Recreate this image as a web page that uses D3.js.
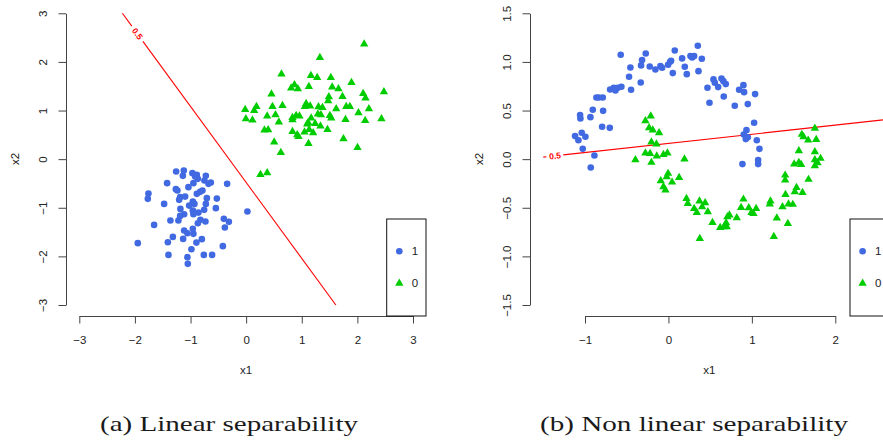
<!DOCTYPE html>
<html>
<head>
<meta charset="utf-8">
<script src="https://cdn.jsdelivr.net/npm/d3@7"></script>
<style>
  html, body { margin: 0; padding: 0; background: #fff; }
  svg { display: block; }
  text { font-family: "Liberation Sans", Arial, sans-serif; }
</style>
</head>
<body>
<svg id="chart" width="883" height="441"></svg>
<script>
// ---------------- DATA ----------------
const legendLabels = ["1", "0"];
const captions = ["(a) Linear separability", "(b) Non linear separability"];
const axisTitles = ["x1", "x2"];

const leftXTicks = [-3, -2, -1, 0, 1, 2, 3];
const leftYTicks = [-3, -2, -1, 0, 1, 2, 3];
const rightXTicks = [-1, 0, 1, 2];
const rightYTicks = [-1.5, -1.0, -0.5, 0.0, 0.5, 1.0, 1.5];

// Left panel, class 1 (blue circles)
const leftClass1 = [
  [-1.259,-0.255],[-1.121,-0.235],[-1.138,-0.344],[-0.966,-0.288],[-0.887,-0.323],
  [-0.917,-0.358],[-0.869,-0.405],[-0.725,-0.344],[-0.750,-0.440],[-0.635,-0.481],
  [-0.678,-0.508],[-0.948,-0.494],[-1.421,-0.494],[-0.342,-0.508],[-1.038,-0.576],
  [-1.264,-0.617],[-1.236,-0.646],[-0.786,-0.646],[-0.827,-0.673],[-0.887,-0.714],
  [-1.757,-0.708],[-1.768,-0.817],[-1.187,-0.782],[-1.097,-0.770],[-1.205,-0.837],
  [-0.707,-0.802],[-0.527,-0.811],[-0.959,-0.872],[-0.930,-0.920],[-1.025,-0.955],
  [-1.475,-0.920],[-0.725,-0.920],[-0.545,-1.008],[-0.755,-1.043],[-0.959,-1.058],
  [-1.182,-1.023],[-0.858,-1.099],[-1.115,-1.132],[-0.948,-1.132],[-1.187,-1.167],
  [0.023,-1.078],[-1.362,-1.263],[-1.218,-1.263],[-0.822,-1.249],[-0.869,-1.317],
  [-0.732,-1.284],[-0.401,-1.228],[-0.311,-1.290],[-1.655,-1.352],[-0.383,-1.407],
  [-0.959,-1.434],[-1.115,-1.469],[-1.056,-1.523],[-0.948,-1.537],[-1.318,-1.599],
  [-1.133,-1.640],[-0.797,-1.646],[-0.894,-1.716],[-1.408,-1.708],[-1.948,-1.728],
  [-0.419,-1.790],[-0.984,-1.852],[-1.397,-1.969],[-0.761,-1.969],[-0.612,-1.969],
  [-1.056,-2.016],[-1.049,-2.154]
];

// Left panel, class 0 (green triangles)
const leftClass0 = [
  [2.122,2.366],[1.326,2.091],[0.635,1.749],[1.164,1.720],[1.277,1.679],
  [1.523,1.679],[1.894,1.576],[0.869,1.529],[0.809,1.461],[0.930,1.447],
  [1.128,1.494],[1.547,1.481],[1.660,1.447],[0.455,1.337],[1.732,1.288],
  [2.104,1.350],[2.146,1.255],[2.477,1.385],[1.487,1.282],[1.475,1.200],
  [0.185,1.082],[-0.018,1.021],[0.144,1.000],[0.473,1.082],[0.653,1.103],
  [1.079,1.144],[1.056,1.082],[1.151,1.091],[1.300,1.076],[1.372,1.062],
  [1.619,1.035],[1.799,1.082],[1.865,1.082],[2.207,1.035],[-0.005,0.829],
  [0.113,0.802],[0.378,0.885],[0.527,0.912],[0.833,0.856],[0.899,0.897],
  [0.959,0.885],[1.169,0.844],[1.290,0.926],[1.344,0.912],[1.505,0.897],
  [1.529,0.844],[1.786,0.815],[2.020,0.953],[2.140,0.794],[2.433,0.829],
  [0.588,0.761],[0.833,0.809],[1.115,0.753],[1.241,0.733],[1.097,0.720],
  [1.336,0.679],[0.329,0.597],[0.396,0.603],[0.833,0.568],[1.049,0.556],
  [1.133,0.609],[1.205,0.541],[1.462,0.609],[0.941,0.465],[0.917,0.500],
  [0.504,0.350],[1.121,0.321],[1.750,0.418],[2.002,0.239],[0.624,0.136],
  [0.257,-0.317],[0.378,-0.282]
];

// Right panel, class 1 (blue circles)
const rightClass1 = [
  [-1.119,0.237],[-1.079,0.195],[-1.039,0.271],[-1.059,0.453],[-1.055,0.418],
  [-0.995,0.230],[-1.027,0.106],[-0.931,-0.086],[-0.887,0.038],[-0.935,0.432],
  [-0.907,0.508],[-0.863,0.634],[-0.835,0.634],[-0.787,0.634],[-0.783,0.497],
  [-0.795,0.333],[-0.703,0.322],[-0.699,0.717],[-0.655,0.734],[-0.635,0.706],
  [-0.607,0.734],[-0.564,0.744],[-0.448,0.713],[-0.472,0.847],[-0.456,0.943],
  [-0.572,1.073],[-0.332,0.789],[-0.328,0.964],[-0.316,1.019],[-0.272,1.087],
  [-0.224,0.953],[-0.156,0.922],[-0.096,0.957],[-0.076,0.940],[-0.004,0.971],
  [0.020,1.001],[0.032,1.012],[0.052,0.885],[0.076,1.118],[0.164,1.036],
  [0.196,0.950],[0.220,0.874],[0.264,1.060],[0.284,1.046],[0.308,1.060],
  [0.352,1.166],[0.360,0.905],[0.400,1.032],[0.468,0.734],[0.492,0.580],
  [0.540,0.820],[0.556,0.785],[0.596,0.741],[0.636,0.830],[0.659,0.802],
  [0.687,0.772],[0.663,0.645],[0.795,0.549],[0.847,0.713],[0.899,0.761],
  [0.907,0.689],[0.951,0.566],[1.039,0.669],[1.027,0.374],[0.935,0.298],
  [0.903,0.254],[0.927,0.206],[0.951,0.226],[1.059,0.195],[1.091,0.106],
  [1.075,-0.010],[1.075,-0.051],[0.887,-0.051]
];

// Right panel, class 0 (green triangles)
const rightClass0 = [
  [-0.276,0.394],[-0.212,0.442],[-0.232,0.322],[-0.188,0.298],[-0.112,0.271],
  [-0.204,0.175],[-0.144,0.154],[-0.396,-0.007],[-0.276,0.062],[-0.220,0.058],
  [-0.204,-0.034],[-0.140,0.031],[-0.060,0.048],[-0.012,0.062],[0.192,0.000],
  [1.755,0.316],[1.599,0.254],[1.619,0.230],[1.675,0.195],[1.771,0.202],
  [1.563,0.086],[1.755,0.075],[1.755,-0.007],[1.823,0.007],[1.507,-0.051],
  [1.563,-0.034],[1.591,-0.055],[1.787,-0.038],[1.755,-0.069],
  [-0.004,-0.147],[-0.020,-0.182],[-0.092,-0.223],[0.044,-0.237],[0.128,-0.189],
  [-0.060,-0.285],[-0.036,-0.319],[0.216,-0.405],[0.232,-0.456],[0.308,-0.508],
  [0.340,-0.549],[0.372,-0.432],[0.404,-0.490],[0.440,-0.449],[0.472,-0.542],
  [0.528,-0.652],[0.620,-0.703],[0.667,-0.696],[0.691,-0.655],[0.707,-0.593],
  [0.731,-0.576],[0.819,-0.604],[0.699,-0.696],[0.376,-0.816],[0.871,-0.497],
  [0.899,-0.412],[0.963,-0.501],[0.995,-0.549],[1.019,-0.559],[1.051,-0.508],
  [1.223,-0.432],[1.215,-0.463],[1.299,-0.607],[1.263,-0.796],[1.367,-0.490],
  [1.403,-0.364],[1.399,-0.216],[1.399,-0.165],[1.431,-0.662],[1.439,-0.463],
  [1.491,-0.466],[1.515,-0.336],[1.535,-0.292],[1.607,-0.343],[1.679,-0.209]
];

// Decision boundaries (0.5 contour), end points in data units
const leftBoundary = [[-2.225, 3.0], [1.613, -3.0]];
const rightBoundary = [[-1.50, 0.021], [2.75, 0.4205]];
const contourLabel = "0.5";

// ---------------- DRAWING ----------------
const svg = d3.select("#chart");
const BLUE = "#4169E1", GREEN = "#00CD00", RED = "#FF0000", AXIS = "#444";

const panels = [
  {
    x: d3.scaleLinear().domain([-3, 3]).range([79.3, 413]),
    y: d3.scaleLinear().domain([-3, 3]).range([305, 13.3]),
    xTicks: leftXTicks, yTicks: leftYTicks, yFmt: d3.format("d"),
    axisY: 316, axisX: 66,
    c1: leftClass1, c0: leftClass0,
    boundary: leftBoundary, gap: [0.044, 0.096], labelT: 0.07,
    xTitle: [246, 374], yTitle: [15, 159],
    legend: { x: 386.7, y: 219, w: 39.3, h: 97 },
    caption: { x: 229, w: 258 }
  },
  {
    x: d3.scaleLinear().domain([-1, 2]).range([585, 835.3]),
    y: d3.scaleLinear().domain([-1.5, 1.5]).range([305, 13.3]),
    xTicks: rightXTicks, yTicks: rightYTicks, yFmt: d3.format(".1f"),
    axisY: 316, axisX: 530,
    c1: rightClass1, c0: rightClass0,
    boundary: rightBoundary, gap: [0.009, 0.0565], labelT: 0.033,
    xTitle: [709.3, 374], yTitle: [479.3, 159],
    legend: { x: 850, y: 219, w: 60, h: 97 },
    caption: { x: 694, w: 308 }
  }
];

const fmtMinus = s => s.replace("-", "\u2212");

panels.forEach((p, pi) => {
  const g = svg.append("g");

  // x axis
  const xa = g.append("g")
    .attr("transform", `translate(0,${p.axisY})`)
    .call(d3.axisBottom(p.x).tickValues(p.xTicks).tickSize(7.5).tickSizeOuter(0)
      .tickFormat(d => fmtMinus(d3.format("d")(d))));
  xa.select(".domain").attr("stroke", AXIS).attr("stroke-width", 1);
  xa.selectAll(".tick line").attr("stroke", AXIS);
  xa.selectAll(".tick text").attr("y", 28).attr("dy", 0)
    .attr("fill", "#222").style("font-size", "11.5px")
    .style("font-family", "'Liberation Sans', Arial, sans-serif");

  // y axis
  const ya = g.append("g")
    .attr("transform", `translate(${p.axisX},0)`)
    .call(d3.axisLeft(p.y).tickValues(p.yTicks).tickSize(7.5).tickSizeOuter(0)
      .tickFormat(d => fmtMinus(p.yFmt(d))));
  ya.select(".domain").attr("stroke", AXIS).attr("stroke-width", 1);
  ya.selectAll(".tick line").attr("stroke", AXIS);
  ya.selectAll(".tick text")
    .attr("x", 0).attr("y", -19).attr("dy", 0)
    .attr("transform", "rotate(-90)")
    .attr("text-anchor", "middle")
    .attr("fill", "#222").style("font-size", "11.5px")
    .style("font-family", "'Liberation Sans', Arial, sans-serif");

  // axis titles
  g.append("text").attr("x", p.xTitle[0]).attr("y", p.xTitle[1])
    .attr("text-anchor", "middle").attr("fill", "#222").style("font-size", "11.5px")
    .text(axisTitles[0]);
  g.append("text")
    .attr("transform", `translate(${p.yTitle[0] + 4},${p.yTitle[1]}) rotate(-90)`)
    .attr("text-anchor", "middle").attr("fill", "#222").style("font-size", "11.5px")
    .text(axisTitles[1]);

  // boundary line with gap for the label
  const [a, b] = p.boundary;
  const lerp = t => [a[0] + (b[0] - a[0]) * t, a[1] + (b[1] - a[1]) * t];
  const segs = [[a, lerp(p.gap[0])], [lerp(p.gap[1]), b]];
  const line = d3.line().x(d => p.x(d[0])).y(d => p.y(d[1]));
  segs.forEach(s => {
    g.append("path").attr("d", line(s)).attr("stroke", RED)
      .attr("stroke-width", 1.1).attr("fill", "none");
  });
  const lp = lerp(p.labelT);
  const ang = Math.atan2(p.y(b[1]) - p.y(a[1]), p.x(b[0]) - p.x(a[0])) * 180 / Math.PI;
  g.append("text")
    .attr("transform", `translate(${p.x(lp[0])},${p.y(lp[1])}) rotate(${ang})`)
    .attr("text-anchor", "middle").attr("dy", "0.35em")
    .attr("fill", RED).style("font-size", "8.5px").style("font-weight", "bold")
    .text(contourLabel);

  // points
  g.append("g").selectAll("circle").data(p.c1).join("circle")
    .attr("cx", d => p.x(d[0])).attr("cy", d => p.y(d[1]))
    .attr("r", 3.3).attr("fill", BLUE);
  const tri = d3.symbol().type(d3.symbolTriangle).size(30);
  g.append("g").selectAll("path").data(p.c0).join("path")
    .attr("transform", d => `translate(${p.x(d[0])},${p.y(d[1])})`)
    .attr("d", tri).attr("fill", GREEN);

  // legend
  const L = p.legend;
  g.append("rect").attr("x", L.x).attr("y", L.y).attr("width", L.w).attr("height", L.h)
    .attr("fill", "#fff").attr("stroke", "#111").attr("stroke-width", 1);
  g.append("circle").attr("cx", L.x + 12.6).attr("cy", L.y + 32.3).attr("r", 3.3).attr("fill", BLUE);
  g.append("path").attr("transform", `translate(${L.x + 12.6},${L.y + 64.3})`)
    .attr("d", tri).attr("fill", GREEN);
  legendLabels.forEach((t, i) => {
    g.append("text").attr("x", L.x + 25).attr("y", L.y + 32.3 + i * 32 + 4)
      .attr("fill", "#222").style("font-size", "11.5px").text(t);
  });

  // caption
  g.append("text").attr("x", p.caption.x).attr("y", 430.5)
    .attr("text-anchor", "middle")
    .attr("textLength", p.caption.w).attr("lengthAdjust", "spacingAndGlyphs")
    .style("font-family", "'Liberation Serif', 'DejaVu Serif', serif")
    .style("font-size", "21px").attr("fill", "#1a1a1a")
    .text(captions[pi]);
});
</script>
</body>
</html>
